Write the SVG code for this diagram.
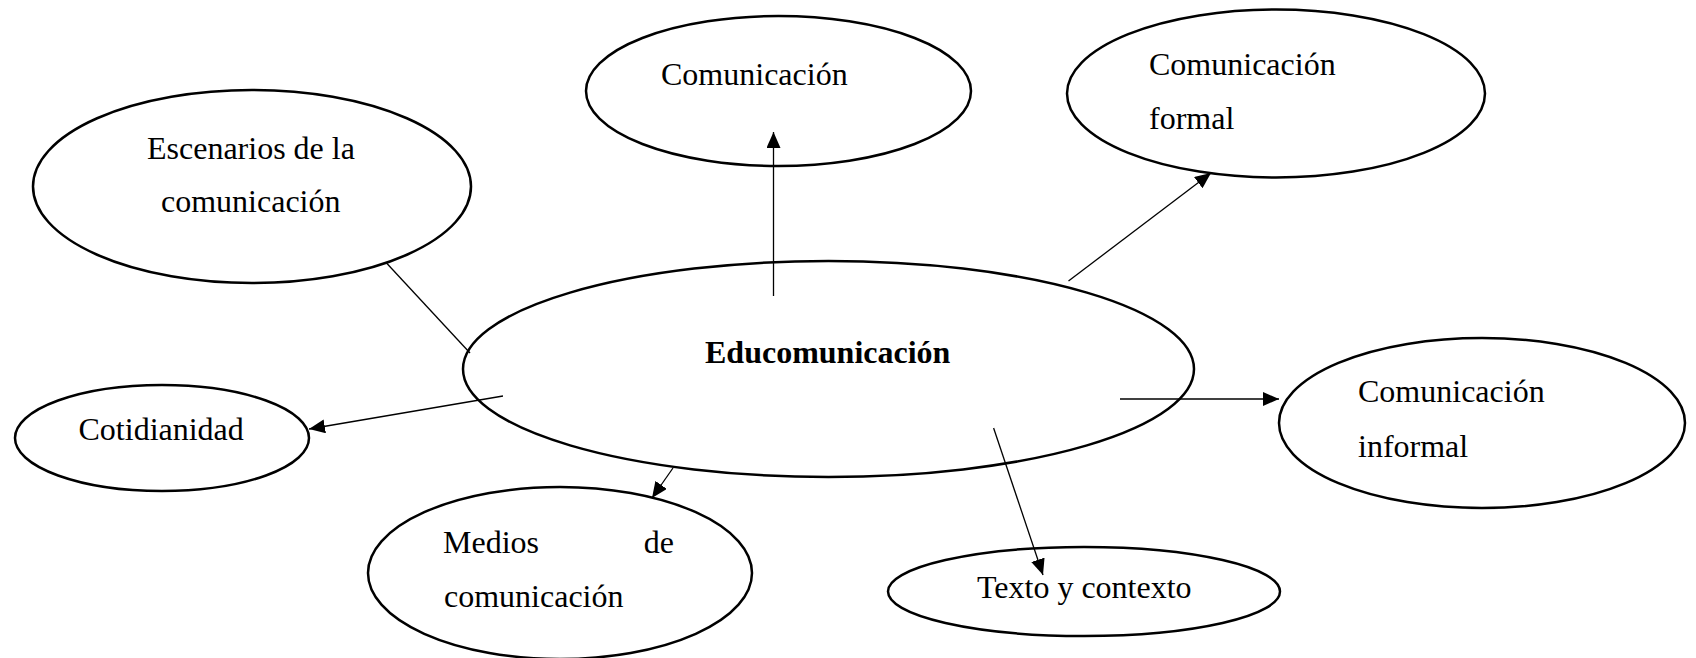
<svg xmlns="http://www.w3.org/2000/svg" width="1696" height="658" viewBox="0 0 1696 658">
<style>
.node ellipse{fill:#fff;stroke:#000;stroke-width:2.5}
.t{font-family:"Liberation Serif","Times New Roman",serif;font-size:32px;fill:#000}
.b{font-weight:bold}
.conn line{stroke:#000;stroke-width:1.3;fill:none}
</style>
<defs>
<marker id="arr" markerUnits="userSpaceOnUse" markerWidth="16" markerHeight="14" refX="16" refY="7" orient="auto">
<path d="M0,0 L16,7 L0,14 z" fill="#000"/>
</marker>
</defs>
<g id="n-escenarios" class="node">
<ellipse cx="252" cy="186.5" rx="219" ry="96.5"/>
<text class="t" x="147" y="159">Escenarios de la</text>
<text class="t" x="161" y="212">comunicación</text>
</g>
<g id="n-comunicacion" class="node">
<ellipse cx="778.5" cy="91" rx="192.5" ry="75"/>
<text class="t" x="661" y="85">Comunicación</text>
</g>
<g id="n-formal" class="node">
<ellipse cx="1276" cy="93.5" rx="209" ry="84"/>
<text class="t" x="1149" y="75">Comunicación</text>
<text class="t" x="1149" y="129">formal</text>
</g>
<g id="n-educomunicacion" class="node">
<ellipse cx="828.5" cy="369" rx="365.5" ry="108"/>
<text class="t b" x="705" y="363">Educomunicación</text>
</g>
<g id="n-cotidianidad" class="node">
<ellipse cx="162" cy="438" rx="147" ry="53"/>
<text class="t" x="78.5" y="440">Cotidianidad</text>
</g>
<g id="n-informal" class="node">
<ellipse cx="1482" cy="423" rx="203" ry="85"/>
<text class="t" x="1358" y="402">Comunicación</text>
<text class="t" x="1358" y="457">informal</text>
</g>
<g id="n-medios" class="node">
<ellipse cx="560" cy="573" rx="192" ry="86"/>
<text class="t" x="443" y="553">Medios</text>
<text class="t" x="674" y="553" text-anchor="end">de</text>
<text class="t" x="444" y="607">comunicación</text>
</g>
<g id="n-texto" class="node">
<ellipse cx="1084" cy="591.5" rx="196" ry="44.5"/>
<text class="t" x="977" y="598">Texto y contexto</text>
</g>
<g id="connectors" class="conn">
<line x1="773.5" y1="296" x2="773.5" y2="132" marker-end="url(#arr)"/>
<line x1="1068.5" y1="281" x2="1211" y2="173" marker-end="url(#arr)"/>
<line x1="386.5" y1="263" x2="470" y2="353"/>
<line x1="503" y1="396" x2="309" y2="429" marker-end="url(#arr)"/>
<line x1="673" y1="468" x2="652" y2="498" marker-end="url(#arr)"/>
<line x1="993.6" y1="428" x2="1043" y2="575" marker-end="url(#arr)"/>
<line x1="1120" y1="399" x2="1279" y2="399" marker-end="url(#arr)"/>
</g>
</svg>
